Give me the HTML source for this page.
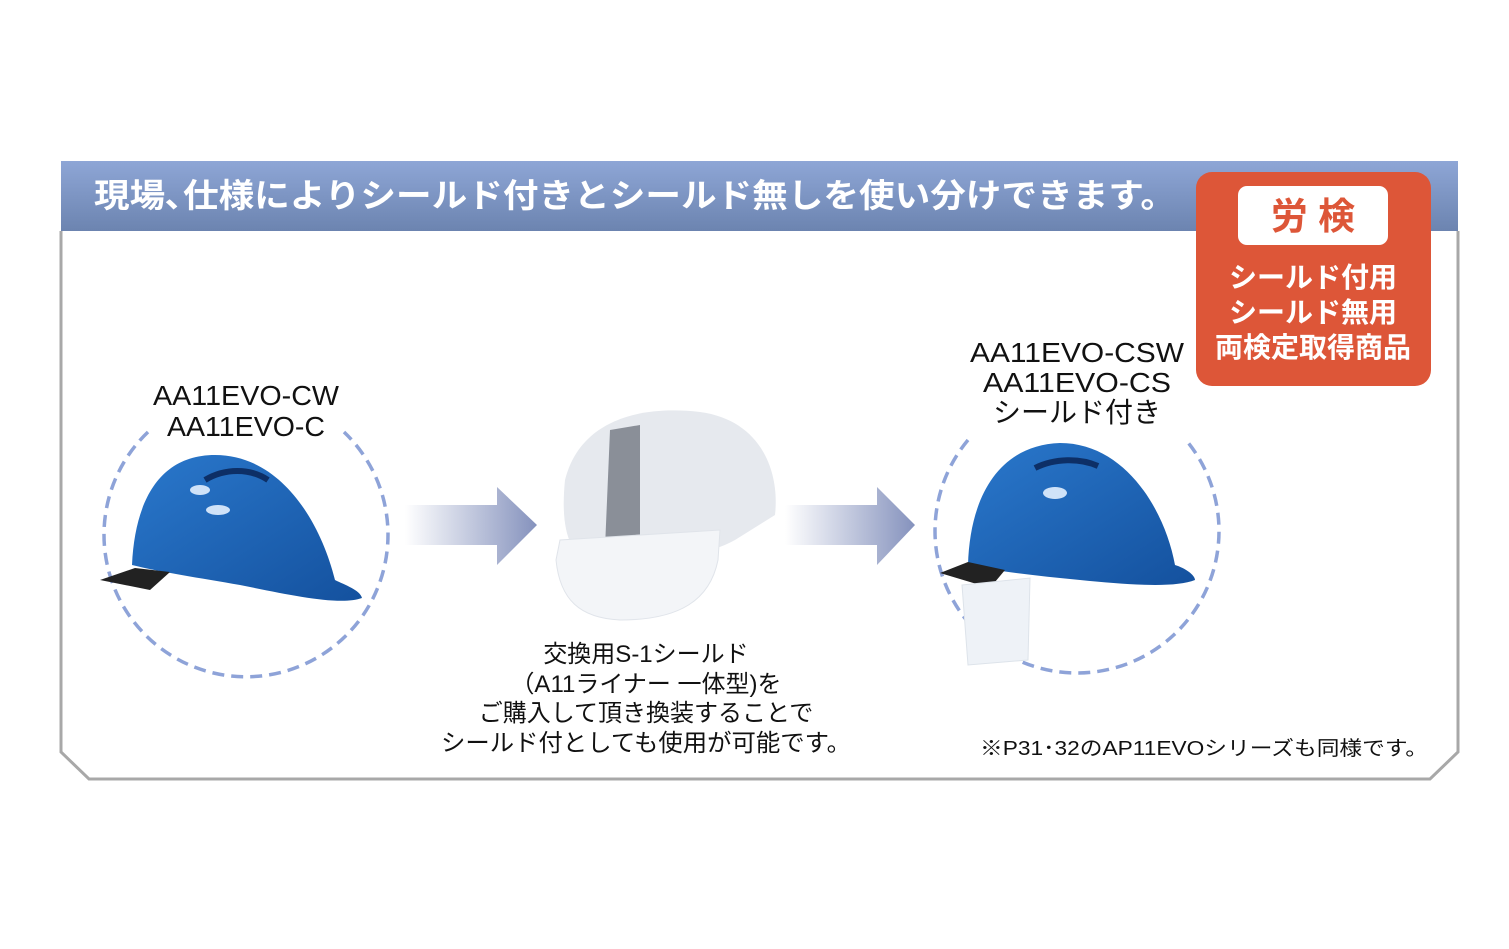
<!DOCTYPE html>
<html><head><meta charset="utf-8"><style>
body{margin:0;background:#fff;}
svg{display:block;}
text{font-family:"Liberation Sans","Noto Sans CJK JP",sans-serif;}
</style></head><body>
<svg width="1509" height="949" viewBox="0 0 1509 949" xmlns="http://www.w3.org/2000/svg">
<defs>
<linearGradient id="hd" x1="0" y1="0" x2="0" y2="1"><stop offset="0" stop-color="#8ea6d6"/><stop offset="1" stop-color="#6c84b0"/></linearGradient>
<linearGradient id="ar" x1="0" y1="0" x2="1" y2="0"><stop offset="0" stop-color="#ffffff"/><stop offset="1" stop-color="#8592bd"/></linearGradient>
<linearGradient id="bl" x1="0" y1="0" x2="1" y2="1"><stop offset="0" stop-color="#2a78cc"/><stop offset="1" stop-color="#14519e"/></linearGradient>
</defs>
<path d="M61 231 V752 L89 779 H1430 L1458 752 V231" fill="none" stroke="#a8a8a8" stroke-width="3"/>
<rect x="61" y="161" width="1397" height="70" fill="url(#hd)"/>
<text x="94" y="207" font-size="33" font-weight="bold" fill="#fff" textLength="1082" lengthAdjust="spacingAndGlyphs">現場､仕様によりシールド付きとシールド無しを使い分けできます。</text>
<rect x="1196" y="172" width="235" height="214" rx="16" fill="#dd5638"/>
<rect x="1238" y="186" width="150" height="59" rx="9" fill="#fff"/>
<text x="1313" y="229" font-size="37" font-weight="bold" fill="#dd5638" text-anchor="middle">労 検</text>
<g font-size="28" font-weight="bold" fill="#fff" text-anchor="middle">
<text x="1313" y="287">シールド付用</text><text x="1313" y="322">シールド無用</text><text x="1313" y="357">両検定取得商品</text></g>
<g font-size="28" fill="#111" text-anchor="middle">
<text x="246" y="405" textLength="186" lengthAdjust="spacingAndGlyphs">AA11EVO-CW</text><text x="246" y="436" textLength="158" lengthAdjust="spacingAndGlyphs">AA11EVO-C</text>
<text x="1077" y="362" textLength="214" lengthAdjust="spacingAndGlyphs">AA11EVO-CSW</text><text x="1077" y="392" textLength="188" lengthAdjust="spacingAndGlyphs">AA11EVO-CS</text><text x="1077" y="422">シールド付き</text></g>
<g fill="none" stroke="#8ea3d8" stroke-width="3.5" stroke-dasharray="12 7">
<path d="M148 432 A142 142 0 1 0 344 432"/>
<path d="M968 440 A142 142 0 1 0 1186 440"/>
</g>
<path d="M405 505 H497 V487 L537 525 L497 565 V545 H405Z" fill="url(#ar)"/>
<path d="M785 505 H877 V487 L915 525 L877 565 V545 H785Z" fill="url(#ar)"/>
<!-- helmet 1 -->
<path d="M132 565 C135 500 160 455 215 455 C280 455 320 520 335 580 C345 585 360 590 362 598 C340 606 290 595 240 585 C200 578 160 572 132 565Z" fill="url(#bl)"/>
<path d="M100 580 L135 568 L170 572 L150 590 Z" fill="#222"/>
<path d="M205 480 C225 468 250 468 268 480" stroke="#0d2f66" stroke-width="6" fill="none"/>
<ellipse cx="200" cy="490" rx="10" ry="5" fill="#cfe2f8"/><ellipse cx="218" cy="510" rx="12" ry="5" fill="#cfe2f8"/>
<!-- liner/shield -->
<path d="M565 480 C580 420 640 405 700 412 C760 420 780 470 775 515 L735 540 C700 560 640 560 590 560 C570 555 560 530 565 480Z" fill="#e6e9ee"/>
<path d="M610 430 L640 425 L640 555 L605 548Z" fill="#8a8f98"/>
<path d="M556 560 C560 600 580 618 620 620 C680 620 710 600 718 560 L720 530 L560 540Z" fill="#f3f5f8" stroke="#e0e4ea"/>
<!-- helmet 2 -->
<path d="M968 565 C970 495 1000 445 1060 443 C1125 443 1165 510 1175 565 C1185 568 1195 575 1195 580 C1175 588 1130 585 1080 580 C1040 576 1000 572 968 565Z" fill="url(#bl)"/>
<path d="M940 573 L968 562 L1005 570 L990 588 Z" fill="#222"/>
<path d="M1035 468 C1055 458 1080 458 1098 466" stroke="#0d2f66" stroke-width="6" fill="none"/>
<ellipse cx="1055" cy="493" rx="12" ry="6" fill="#cfe2f8"/>
<path d="M962 585 L1030 578 L1028 660 L968 665Z" fill="#eef2f7" stroke="#dde3ea"/>
<g font-size="24" fill="#111" text-anchor="middle">
<text x="646" y="662">交換用S-1シールド</text><text x="646" y="692">（A11ライナー 一体型)を</text>
<text x="646" y="721">ご購入して頂き換装することで</text><text x="646" y="751" textLength="410" lengthAdjust="spacingAndGlyphs">シールド付としても使用が可能です。</text></g>
<text x="980" y="755" font-size="20" fill="#111" textLength="448" lengthAdjust="spacingAndGlyphs">※P31･32のAP11EVOシリーズも同様です。</text>
</svg>
</body></html>
